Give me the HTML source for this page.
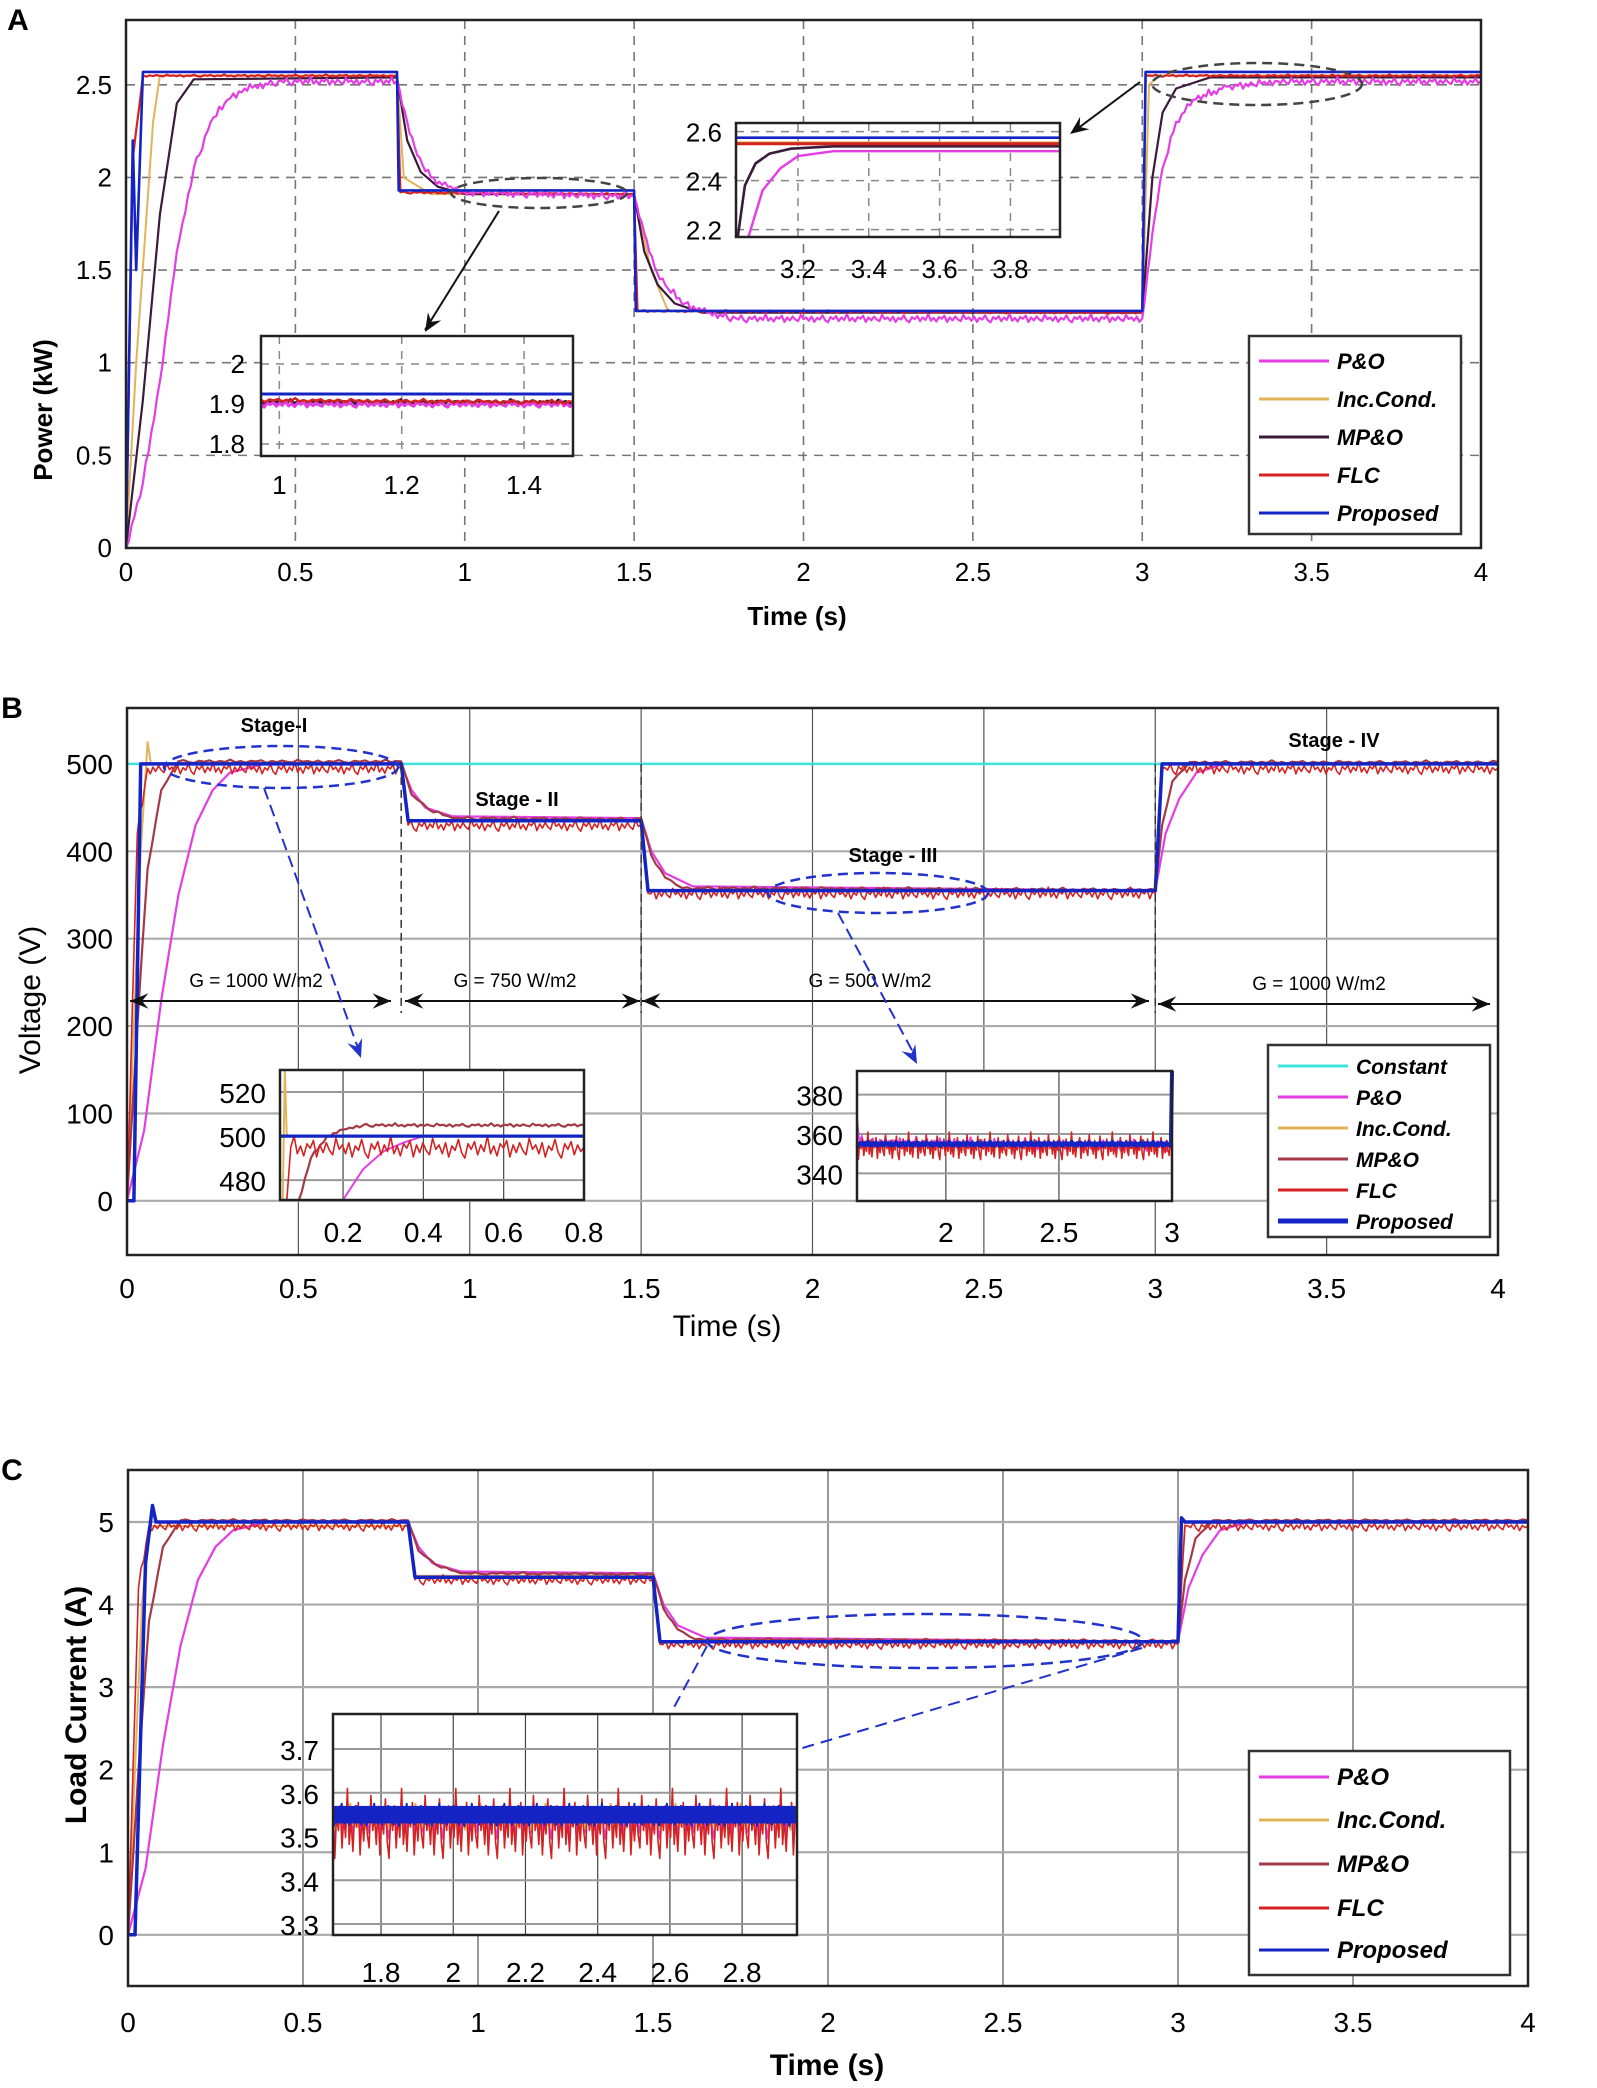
<!DOCTYPE html>
<html><head><meta charset="utf-8">
<style>
html,body{margin:0;padding:0;background:#fff;}
svg{display:block;font-family:"Liberation Sans",sans-serif;}
</style></head>
<body>
<svg id="fig" width="1597" height="2088" viewBox="0 0 1597 2088" xmlns="http://www.w3.org/2000/svg"></svg>
<script>
// ---------- DATA ----------
// Panel A: power (kW)
const aPO_t=[0,0.05,0.1,0.15,0.2,0.25,0.3,0.35,0.45,0.8,0.83,0.86,0.9,0.95,1.0,1.5,1.53,1.56,1.6,1.65,1.7,1.8,3.0,3.03,3.06,3.1,3.15,3.25,3.4,4];
const aPO_v=[0,0.35,0.9,1.6,2.05,2.3,2.42,2.48,2.52,2.52,2.3,2.12,2.0,1.95,1.92,1.9,1.7,1.52,1.4,1.32,1.28,1.24,1.24,1.7,2.05,2.3,2.42,2.49,2.52,2.52];
const aIC_t=[0,0.03,0.08,0.1,0.8,0.82,0.9,1.5,1.55,1.6,3.0,3.02,3.05,4];
const aIC_v=[0,1.0,2.3,2.55,2.55,2.0,1.91,1.91,1.5,1.28,1.27,2.5,2.55,2.55];
const aMP_t=[0,0.05,0.1,0.15,0.2,0.8,0.83,0.87,0.92,1.0,1.5,1.53,1.57,1.62,1.7,3.0,3.03,3.06,3.1,3.2,4];
const aMP_v=[0,0.8,1.8,2.4,2.53,2.54,2.2,2.03,1.95,1.91,1.91,1.6,1.42,1.32,1.27,1.27,2.0,2.35,2.48,2.54,2.54];
const aFL_t=[0,0.02,0.05,0.8,0.81,1.5,1.51,3.0,3.01,4];
const aFL_v=[0,2.1,2.55,2.55,1.92,1.91,1.28,1.27,2.55,2.55];
const aPR_t=[0,0.02,0.03,0.05,0.8,0.805,1.5,1.505,3.0,3.01,4];
const aPR_v=[0,2.2,1.5,2.57,2.57,1.93,1.93,1.28,1.28,2.57,2.57];
const aXticks=[0,0.5,1,1.5,2,2.5,3,3.5,4];
const aYticks=[0,0.5,1,1.5,2,2.5];
// Panel B: voltage (V)
const bCO_t=[0,4]; const bCO_v=[500,500];
const bPO_t=[0,0.05,0.1,0.15,0.2,0.25,0.3,0.4,0.8,0.83,0.87,0.95,1.5,1.53,1.57,1.65,3.0,3.03,3.07,3.12,3.2,4];
const bPO_v=[0,80,230,350,430,470,490,500,500,470,450,440,438,400,375,360,355,420,460,490,500,500];
const bIC_t=[0,0.04,0.06,0.07,0.8,0.82,1.5,1.52,3.0,3.02,4];
const bIC_v=[0,400,525,500,500,435,435,355,355,500,500];
const bMP_t=[0,0.03,0.06,0.1,0.15,0.8,0.83,0.88,0.95,1.5,1.53,1.57,1.62,3.0,3.02,3.05,3.1,4];
const bMP_v=[0,200,380,470,503,503,465,448,438,437,395,370,358,356,430,480,502,502];
const bFL_t=[0,0.03,0.06,0.8,0.82,1.5,1.52,3.0,3.02,4];
const bFL_v=[0,420,495,495,430,430,352,352,495,495];
const bPR_t=[0,0.02,0.04,0.8,0.82,1.5,1.52,3.0,3.02,4];
const bPR_v=[0,0,500,500,435,435,355,355,500,500];
const bXticks=[0,0.5,1,1.5,2,2.5,3,3.5,4];
const bYticks=[0,100,200,300,400,500];
// Panel C: load current (A)
const cPO_t=[0,0.05,0.1,0.15,0.2,0.25,0.3,0.4,0.8,0.83,0.87,0.95,1.5,1.53,1.57,1.65,3.0,3.03,3.07,3.12,3.2,4];
const cPO_v=[0,0.8,2.3,3.5,4.3,4.7,4.9,5.0,5.0,4.7,4.5,4.4,4.38,4.0,3.75,3.6,3.55,4.2,4.6,4.9,5.0,5.0];
const cIC_t=[0,0.04,0.06,0.8,0.82,1.5,1.52,3.0,3.02,4];
const cIC_v=[0,4.0,4.95,4.95,4.35,4.35,3.55,3.55,5.0,5.0];
const cMP_t=[0,0.03,0.06,0.1,0.15,0.8,0.83,0.88,0.95,1.5,1.53,1.57,1.62,3.0,3.02,3.05,3.1,4];
const cMP_v=[0,2.0,3.8,4.7,5.02,5.02,4.65,4.48,4.38,4.37,3.95,3.7,3.58,3.56,4.3,4.8,5.02,5.02];
const cFL_t=[0,0.03,0.06,0.8,0.82,1.5,1.52,3.0,3.02,4];
const cFL_v=[0,4.2,4.95,4.95,4.3,4.3,3.52,3.52,4.95,4.95];
const cPR_t=[0,0.02,0.05,0.07,0.08,0.8,0.82,1.5,1.52,3.0,3.01,3.02,4];
const cPR_v=[0,0,4.5,5.2,5.0,5.0,4.33,4.33,3.55,3.55,5.05,5.0,5.0];
const cXticks=[0,0.5,1,1.5,2,2.5,3,3.5,4];
const cYticks=[0,1,2,3,4,5];
// hand-read ripple texture (normalised)
const ripple=[0.2,-0.6,0.4,-0.9,0.1,-0.3,0.7,-0.5,-1,0.3,-0.2,0.5,-0.7,0.2,-0.4,1,-0.6,0.1,-0.8,0.3,-0.1,0.6,-0.9,0.2,-0.5,0.4,-0.3,-0.7,0.8,-0.2];

// ---------- HELPERS ----------
const NS="http://www.w3.org/2000/svg";
const svg=document.getElementById('fig');
function mk(tag,attrs,parent,name,inter){
  const e=document.createElementNS(NS,tag);
  for(const k in attrs) e.setAttribute(k,attrs[k]);
  
  
  (parent||svg).appendChild(e); return e;
}
function txt(x,y,s,size,opts,name,parent){
  opts=opts||{};
  const t=mk('text',{x:x,y:y,'font-size':size,'text-anchor':opts.anchor||'middle','font-weight':opts.bold?'bold':'normal','font-style':opts.italic?'italic':'normal',fill:'#000'},parent,name);
  if(opts.rot) t.setAttribute('transform','rotate(-90 '+x+' '+y+')');
  t.textContent=s; return t;
}
function scale(d0,d1,p0,p1){return v=>p0+(v-d0)*(p1-p0)/(d1-d0);}
function path(ts,vs,sx,sy,opt){
  let pts=[];
  for(let i=0;i<ts.length;i++){
    if(opt.rip && i>0){
      const n=Math.max(1,Math.round((ts[i]-ts[i-1])/opt.step));
      for(let k=1;k<n;k++){
        const tt=ts[i-1]+(ts[i]-ts[i-1])*k/n;
        const vv=vs[i-1]+(vs[i]-vs[i-1])*k/n;
        pts.push([sx(tt),sy(vv+opt.rip*ripple[(k+i*7)%ripple.length])]);
      }
    }
    pts.push([sx(ts[i]),sy(vs[i])]);
  }
  return 'M'+pts.map(p=>p[0].toFixed(1)+','+p[1].toFixed(1)).join('L');
}
function series(g,ts,vs,sx,sy,color,w,name,opt){
  return mk('path',{d:path(ts,vs,sx,sy,opt||{}),fill:'none',stroke:color,'stroke-width':w,'stroke-linejoin':'round'},g,name);
}
function clipRect(id,x,y,w,h){
  const cp=mk('clipPath',{id:id},svg,'clip');
  mk('rect',{x:x,y:y,width:w,height:h},cp,'clip-rect');
}
const C={po:'#e33ee3',ic:'#e2b45a',mpA:'#3b1a3b',mp:'#a33a46',fl:'#d42222',pr:'#1424c4',co:'#3fe3dd'};

function axesFrame(P,name,dashed){
  const g=mk('g',{},svg,name);
  mk('rect',{x:P.x0,y:P.y0,width:P.x1-P.x0,height:P.y1-P.y0,fill:'#fff',stroke:'none'},g,'plot-background');
  const gs=dashed?{stroke:'#777','stroke-width':1.6,'stroke-dasharray':'9,7'}:{stroke:'#aaa','stroke-width':2.2};
  P.xt.forEach(v=>{const x=P.sx(v); if(x>P.x0+2&&x<P.x1-2) mk('line',Object.assign({x1:x,x2:x,y1:P.y0,y2:P.y1},dashed?gs:{stroke:'#555','stroke-width':1.2}),g,'x-gridline');});
  P.yt.forEach(v=>{const y=P.sy(v); if(y>P.y0+2&&y<P.y1-2) mk('line',Object.assign({x1:P.x0,x2:P.x1,y1:y,y2:y},gs),g,'y-gridline');});
  return g;
}
function frameBorder(P){
  mk('rect',{x:P.x0,y:P.y0,width:P.x1-P.x0,height:P.y1-P.y0,fill:'none',stroke:'#222','stroke-width':2.5},svg,'plot-frame');
}
function ticks(P,fmt,size,xly,yOffset){
  P.xt.forEach(v=>txt(P.sx(v),xly,fmt(v),size,{},'x-tick-label'));
  P.yt.forEach(v=>txt(P.x0-14,P.sy(v)+yOffset,fmt(v),size,{anchor:'end'},'y-tick-label'));
}
function legend(x,y,w,h,items,ys,size,name){
  const g=mk('g',{},svg,name);
  mk('rect',{x:x,y:y,width:w,height:h,fill:'#fff',stroke:'#333','stroke-width':2.5},g,'legend-box');
  items.forEach((it,i)=>{
    const e=mk('g',{},g,'legend-entry');
    mk('line',{x1:x+10,x2:x+80,y1:ys[i],y2:ys[i],stroke:it[1],'stroke-width':it[2]||3},e,'legend-swatch');
    txt(x+88,ys[i]+8,it[0],size,{anchor:'start',bold:true,italic:true},'legend-label',e);
  });
}
function inset(x,y,w,h,xd,yd,xt,yt,dashed,name){
  const sx=scale(xd[0],xd[1],x,x+w), sy=scale(yd[0],yd[1],y+h,y);
  const g=mk('g',{},svg,name);
  mk('rect',{x:x,y:y,width:w,height:h,fill:'#fff'},g,'inset-background');
  const gs=dashed?{stroke:'#888','stroke-width':1.5,'stroke-dasharray':'8,7'}:{stroke:'#999','stroke-width':2};
  xt.forEach(v=>{const X=sx(v); if(X>x+2&&X<x+w-2) mk('line',Object.assign({x1:X,x2:X,y1:y,y2:y+h},dashed?gs:{stroke:'#444','stroke-width':1.2}),g,'inset-x-gridline');});
  yt.forEach(v=>{const Y=sy(v); if(Y>y+2&&Y<y+h-2) mk('line',Object.assign({x1:x,x2:x+w,y1:Y,y2:Y},gs),g,'inset-y-gridline');});
  return {g,sx,sy,x,y,w,h};
}
function insetBorder(I){mk('rect',{x:I.x,y:I.y,width:I.w,height:I.h,fill:'none',stroke:'#222','stroke-width':2.5},svg,'inset-frame');}
function arrowHead(x1,y1,x2,y2,color,name){
  const a=Math.atan2(y2-y1,x2-x1),L=20,s=0.4;
  mk('path',{d:`M${x2},${y2}L${x2-L*Math.cos(a-s)},${y2-L*Math.sin(a-s)}L${x2-L*0.6*Math.cos(a)},${y2-L*0.6*Math.sin(a)}L${x2-L*Math.cos(a+s)},${y2-L*Math.sin(a+s)}Z`,fill:color},svg,name);
}

// ---------- PANEL A ----------
txt(18,30,'A',30,{bold:true},'panel-a-label');
const A={x0:126,x1:1481,y0:20,y1:548,xt:aXticks,yt:aYticks};
A.sx=scale(0,4,A.x0,A.x1); A.sy=scale(0,2.85,A.y1,A.y0);
axesFrame(A,'panel-a-axes',true);
clipRect('clipA',A.x0,A.y0,A.x1-A.x0,A.y1-A.y0);
const gA=mk('g',{'clip-path':'url(#clipA)'},svg,'panel-a-series');
series(gA,aIC_t,aIC_v,A.sx,A.sy,C.ic,2,'series-inc-cond');
series(gA,aMP_t,aMP_v,A.sx,A.sy,C.mpA,2.2,'series-mpo');
series(gA,aFL_t,aFL_v,A.sx,A.sy,C.fl,2.2,'series-flc',{rip:0.006,step:0.01});
series(gA,aPO_t,aPO_v,A.sx,A.sy,C.po,2.2,'series-po',{rip:0.022,step:0.008});
series(gA,aPR_t,aPR_v,A.sx,A.sy,C.pr,2.6,'series-proposed');
frameBorder(A);
ticks(A,v=>String(v),26,581,9);
txt(797,625,'Time (s)',26,{bold:true},'x-axis-title');
txt(52,410,'Power (kW)',26,{bold:true,rot:true},'y-axis-title');
mk('ellipse',{cx:539,cy:193,rx:88,ry:15,fill:'none',stroke:'#444','stroke-width':2.5,'stroke-dasharray':'10,6'},svg,'zoom-ellipse');
mk('ellipse',{cx:1257,cy:84,rx:105,ry:21,fill:'none',stroke:'#444','stroke-width':2.5,'stroke-dasharray':'10,6'},svg,'zoom-ellipse');
mk('line',{x1:499,y1:211,x2:425,y2:330,stroke:'#111','stroke-width':2},svg,'zoom-arrow');
arrowHead(499,211,425,332,'#111','zoom-arrowhead');
mk('line',{x1:1140,y1:82,x2:1073,y2:132,stroke:'#111','stroke-width':2},svg,'zoom-arrow');
arrowHead(1140,82,1070,134,'#111','zoom-arrowhead');
// inset A1
const IA1=inset(261,336,312,120,[0.97,1.48],[1.77,2.07],[1,1.2,1.4],[1.8,1.9,2],true,'panel-a-inset-1');
series(IA1.g,[0.97,1.48],[1.905,1.905],IA1.sx,IA1.sy,C.mpA,3,'inset-series-mpo',{rip:0.006,step:0.006});
series(IA1.g,[0.97,1.48],[1.9,1.9],IA1.sx,IA1.sy,C.po,3,'inset-series-po',{rip:0.008,step:0.005});
series(IA1.g,[0.97,1.48],[1.91,1.905],IA1.sx,IA1.sy,C.fl,2.5,'inset-series-flc',{rip:0.005,step:0.007});
series(IA1.g,[0.97,1.48],[1.925,1.925],IA1.sx,IA1.sy,C.pr,3,'inset-series-proposed');
insetBorder(IA1);
[1.8,1.9,2].forEach(v=>txt(245,IA1.sy(v)+9,String(v),26,{anchor:'end'},'inset-y-tick-label'));
[1,1.2,1.4].forEach(v=>txt(IA1.sx(v),494,String(v),26,{},'inset-x-tick-label'));
// inset A2
const IA2=inset(736,123,324,114,[3.025,3.94],[2.17,2.635],[3.2,3.4,3.6,3.8],[2.2,2.4,2.6],true,'panel-a-inset-2');
series(IA2.g,[3.025,3.94],[2.555,2.555],IA2.sx,IA2.sy,C.ic,2.5,'inset-series-inc-cond');
series(IA2.g,[3.03,3.05,3.08,3.12,3.18,3.3,3.94],[2.17,2.38,2.47,2.51,2.53,2.54,2.54],IA2.sx,IA2.sy,C.mpA,2.6,'inset-series-mpo');
series(IA2.g,[3.06,3.1,3.15,3.2,3.3,3.94],[2.17,2.36,2.45,2.5,2.52,2.52],IA2.sx,IA2.sy,C.po,2.4,'inset-series-po');
series(IA2.g,[3.025,3.94],[2.55,2.55],IA2.sx,IA2.sy,C.fl,3,'inset-series-flc');
series(IA2.g,[3.025,3.94],[2.575,2.575],IA2.sx,IA2.sy,C.pr,2.6,'inset-series-proposed');
insetBorder(IA2);
[2.2,2.4,2.6].forEach(v=>txt(722,IA2.sy(v)+10,String(v),26,{anchor:'end'},'inset-y-tick-label'));
[3.2,3.4,3.6,3.8].forEach(v=>txt(IA2.sx(v),278,String(v),26,{},'inset-x-tick-label'));
legend(1249,336,212,198,[['P&O',C.po],['Inc.Cond.',C.ic],['MP&O',C.mpA],['FLC',C.fl],['Proposed',C.pr]],[361,399,437,475,513],22,'panel-a-legend');

// ---------- PANEL B ----------
txt(12,718,'B',30,{bold:true},'panel-b-label');
const B={x0:127,x1:1498,y0:708,y1:1255,xt:bXticks,yt:bYticks};
B.sx=scale(0,4,B.x0,B.x1); B.sy=scale(-62,564,B.y1,B.y0);
axesFrame(B,'panel-b-axes',false);
clipRect('clipB',B.x0,B.y0,B.x1-B.x0,B.y1-B.y0);
const gB=mk('g',{'clip-path':'url(#clipB)'},svg,'panel-b-series');
series(gB,bCO_t,bCO_v,B.sx,B.sy,C.co,2.5,'series-constant');
series(gB,bIC_t,bIC_v,B.sx,B.sy,C.ic,2,'series-inc-cond');
series(gB,bPO_t,bPO_v,B.sx,B.sy,C.po,2.2,'series-po');
series(gB,bMP_t,bMP_v,B.sx,B.sy,C.mp,2.2,'series-mpo',{rip:2,step:0.015});
series(gB,bFL_t,bFL_v,B.sx,B.sy,C.fl,1.6,'series-flc',{rip:7,step:0.008});
series(gB,bPR_t,bPR_v,B.sx,B.sy,C.pr,3.5,'series-proposed');
[0.8,1.5,3].forEach(v=>mk('line',{x1:B.sx(v),x2:B.sx(v),y1:B.sy(500),y2:B.sy(215),stroke:'#333','stroke-width':1.5,'stroke-dasharray':'8,5'},svg,'stage-separator'));
frameBorder(B);
ticks(B,v=>String(v),28,1298,10);
txt(727,1336,'Time (s)',30,{},'x-axis-title');
txt(40,1000,'Voltage (V)',30,{rot:true},'y-axis-title');
txt(274,732,'Stage-I',20,{bold:true},'stage-label');
txt(517,806,'Stage - II',20,{bold:true},'stage-label');
txt(893,862,'Stage - III',20,{bold:true},'stage-label');
txt(1334,747,'Stage - IV',20,{bold:true},'stage-label');
const gArr=[[130,391,1001,'G = 1000 W/m2',256],[405,640,1001,'G = 750 W/m2',515],[642,1149,1001,'G = 500 W/m2',870],[1158,1490,1004,'G = 1000 W/m2',1319]];
gArr.forEach(a=>{
  mk('line',{x1:a[0],x2:a[1],y1:a[2],y2:a[2],stroke:'#111','stroke-width':2},svg,'irradiance-arrow');
  arrowHead(a[1]-10,a[2],a[1],a[2],'#111','arrowhead');
  arrowHead(a[0]+10,a[2],a[0],a[2],'#111','arrowhead');
  txt(a[4],a[2]-14,a[3],19,{},'irradiance-label');
});
mk('ellipse',{cx:281,cy:767,rx:117,ry:21,fill:'none',stroke:'#2233cc','stroke-width':2.5,'stroke-dasharray':'10,6'},svg,'zoom-ellipse');
mk('ellipse',{cx:878,cy:893,rx:110,ry:20,fill:'none',stroke:'#2233cc','stroke-width':2.5,'stroke-dasharray':'10,6'},svg,'zoom-ellipse');
mk('line',{x1:264,y1:788,x2:358,y2:1048,stroke:'#2233cc','stroke-width':2,'stroke-dasharray':'12,6'},svg,'zoom-arrow');
arrowHead(264,788,361,1058,'#2233cc','zoom-arrowhead');
mk('line',{x1:838,y1:913,x2:914,y2:1054,stroke:'#2233cc','stroke-width':2,'stroke-dasharray':'12,6'},svg,'zoom-arrow');
arrowHead(838,913,917,1064,'#2233cc','zoom-arrowhead');
// inset B1
const IB1=inset(280,1070,304,130,[0.043,0.8],[471,530],[0.2,0.4,0.6],[480,500,520],false,'panel-b-inset-1');
series(IB1.g,[0.05,0.055,0.06,0.065,0.8],[471,530,500,500,500],IB1.sx,IB1.sy,C.ic,2,'inset-series-inc-cond');
series(IB1.g,[0.2,0.25,0.3,0.35,0.4,0.8],[471,485,493,497,500,500],IB1.sx,IB1.sy,C.po,2,'inset-series-po');
series(IB1.g,[0.09,0.12,0.16,0.2,0.25,0.8],[471,490,500,503,505,505],IB1.sx,IB1.sy,C.mp,2.2,'inset-series-mpo',{rip:0.8,step:0.008});
series(IB1.g,[0.06,0.07,0.8],[471,495,495],IB1.sx,IB1.sy,C.fl,1.6,'inset-series-flc',{rip:5,step:0.008});
series(IB1.g,[0.043,0.8],[500,500],IB1.sx,IB1.sy,C.pr,3.2,'inset-series-proposed');
insetBorder(IB1);
[480,500,520].forEach(v=>txt(266,IB1.sy(v)+11,String(v),28,{anchor:'end'},'inset-y-tick-label'));
[0.2,0.4,0.6,0.8].forEach(v=>txt(IB1.sx(v),1242,String(v),28,{},'inset-x-tick-label'));
// inset B2
const IB2=inset(857,1071,315,130,[1.607,3.0],[326,392],[2,2.5],[340,360,380],false,'panel-b-inset-2');
series(IB2.g,[1.607,1.62,3.0],[368,356,354],IB2.sx,IB2.sy,C.po,2,'inset-series-po',{rip:3,step:0.008});
series(IB2.g,[1.607,3.0],[355,355],IB2.sx,IB2.sy,C.mp,2,'inset-series-mpo',{rip:2,step:0.008});
series(IB2.g,[1.607,3.0],[354,354],IB2.sx,IB2.sy,C.fl,1.6,'inset-series-flc',{rip:7,step:0.006});
series(IB2.g,[1.607,2.995,3.0],[355,355,392],IB2.sx,IB2.sy,C.pr,4,'inset-series-proposed',{rip:1,step:0.006});
insetBorder(IB2);
[340,360,380].forEach(v=>txt(843,IB2.sy(v)+11,String(v),28,{anchor:'end'},'inset-y-tick-label'));
[[2,'2'],[2.5,'2.5'],[3,'3']].forEach(v=>txt(IB2.sx(v[0]),1242,v[1],28,{},'inset-x-tick-label'));
legend(1268,1045,222,192,[['Constant',C.co],['P&O',C.po],['Inc.Cond.',C.ic],['MP&O',C.mp],['FLC',C.fl],['Proposed',C.pr,5]],[1066,1097,1128,1159,1190,1221],21,'panel-b-legend');

// ---------- PANEL C ----------
txt(12,1480,'C',30,{bold:true},'panel-c-label');
const Cp={x0:128,x1:1528,y0:1470,y1:1986,xt:cXticks,yt:cYticks};
Cp.sx=scale(0,4,Cp.x0,Cp.x1); Cp.sy=scale(-0.62,5.63,Cp.y1,Cp.y0);
axesFrame(Cp,'panel-c-axes',false);
clipRect('clipC',Cp.x0,Cp.y0,Cp.x1-Cp.x0,Cp.y1-Cp.y0);
const gC=mk('g',{'clip-path':'url(#clipC)'},svg,'panel-c-series');
series(gC,cIC_t,cIC_v,Cp.sx,Cp.sy,C.ic,2,'series-inc-cond');
series(gC,cPO_t,cPO_v,Cp.sx,Cp.sy,C.po,2.2,'series-po');
series(gC,cMP_t,cMP_v,Cp.sx,Cp.sy,C.mp,2.2,'series-mpo',{rip:0.015,step:0.015});
series(gC,cFL_t,cFL_v,Cp.sx,Cp.sy,C.fl,1.6,'series-flc',{rip:0.06,step:0.008});
series(gC,cPR_t,cPR_v,Cp.sx,Cp.sy,C.pr,3.5,'series-proposed');
frameBorder(Cp);
ticks(Cp,v=>String(v),28,2032,10);
txt(827,2075,'Time (s)',30,{bold:true},'x-axis-title');
txt(86,1705,'Load Current  (A)',30,{bold:true,rot:true},'y-axis-title');
mk('ellipse',{cx:925,cy:1641,rx:218,ry:27,fill:'none',stroke:'#2233cc','stroke-width':2.5,'stroke-dasharray':'12,7'},svg,'zoom-ellipse');
mk('line',{x1:707,y1:1646,x2:671,y2:1713,stroke:'#2233cc','stroke-width':2,'stroke-dasharray':'12,7'},svg,'zoom-connector');
mk('line',{x1:1142,y1:1648,x2:799,y2:1749,stroke:'#2233cc','stroke-width':2,'stroke-dasharray':'12,7'},svg,'zoom-connector');
const IC=inset(333,1714,464,221,[1.667,2.952],[3.275,3.78],[1.8,2,2.2,2.4,2.6,2.8],[3.3,3.4,3.6,3.7],false,'panel-c-inset');
series(IC.g,[1.667,2.952],[3.54,3.54],IC.sx,IC.sy,C.po,2,'inset-series-po',{rip:0.045,step:0.005});
series(IC.g,[1.667,2.952],[3.545,3.545],IC.sx,IC.sy,C.ic,2,'inset-series-inc-cond',{rip:0.03,step:0.006});
series(IC.g,[1.667,2.952],[3.53,3.53],IC.sx,IC.sy,C.fl,1.6,'inset-series-flc',{rip:0.08,step:0.005});
mk('rect',{x:IC.x,y:IC.sy(3.57),width:IC.w,height:IC.sy(3.53)-IC.sy(3.57),fill:C.pr},IC.g,'inset-series-proposed-band');
series(IC.g,[1.667,2.952],[3.55,3.55],IC.sx,IC.sy,C.pr,2,'inset-series-proposed',{rip:0.025,step:0.003});
insetBorder(IC);
[3.3,3.4,3.5,3.6,3.7].forEach(v=>txt(319,IC.sy(v)+11,String(v),28,{anchor:'end'},'inset-y-tick-label'));
[1.8,2,2.2,2.4,2.6,2.8].forEach(v=>txt(IC.sx(v),1982,String(v),28,{},'inset-x-tick-label'));
legend(1249,1751,261,224,[['P&O',C.po],['Inc.Cond.',C.ic],['MP&O',C.mp],['FLC',C.fl],['Proposed',C.pr]],[1777,1820,1864,1908,1950],24,'panel-c-legend');
</script>
</body></html>
